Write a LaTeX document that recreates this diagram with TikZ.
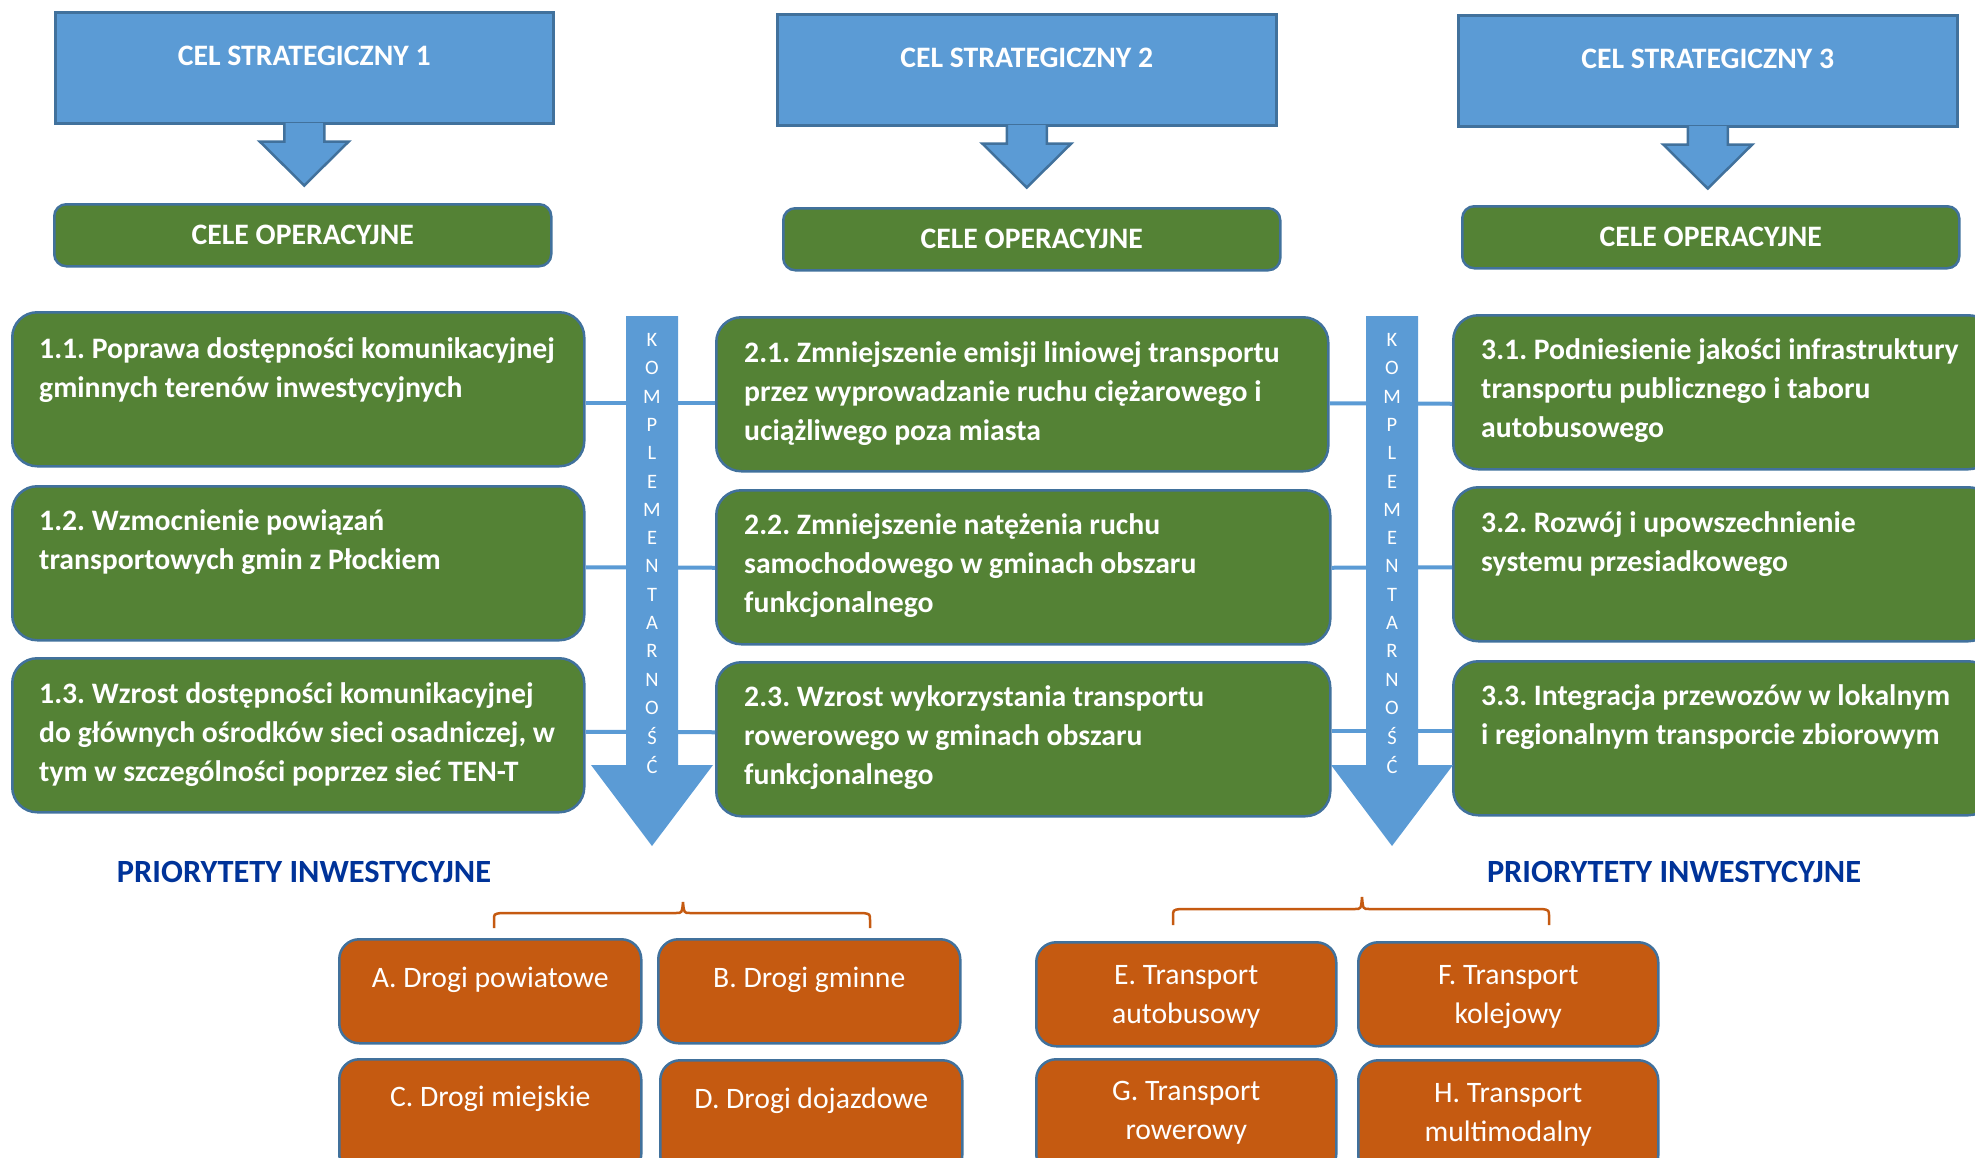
\documentclass[tikz,border=0pt]{standalone}
\usepackage{fontspec}
\setmainfont{Carlito}
\usetikzlibrary{calc}
\frenchspacing

\definecolor{boxblue}{HTML}{5B9BD5}
\definecolor{edgeblue}{HTML}{41719C}
\definecolor{opgreen}{HTML}{548235}
\definecolor{prioorange}{HTML}{C55A11}
\definecolor{prioblue}{RGB}{0,51,153}

\tikzset{
  stratbox/.style={draw=edgeblue, fill=boxblue, line width=2.5pt, minimum width=498pt,
    minimum height=111pt, anchor=north west, inner sep=0pt},
  headtext/.style={text=white, font=\fontsize{29.7}{36}\selectfont\bfseries, anchor=base, inner sep=0pt},
  downarrow/.style={fill=boxblue, draw=edgeblue, line width=2.5pt, line join=miter},
  opbox/.style={draw=edgeblue, fill=opgreen, line width=2.5pt, rounded corners=12pt,
    minimum width=497pt, minimum height=62pt, anchor=north west, text=white,
    font=\fontsize{29.7}{36}\selectfont\bfseries},
  goalbox/.style={draw=edgeblue, fill=opgreen, line width=2.5pt, rounded corners=25pt,
    minimum height=154pt, anchor=north west, inner sep=0pt},
  % base anchor of a multi-line node sits on its last line
  goaltext/.style={text=white, font=\fontsize{29.7}{39}\selectfont\bfseries, align=left,
    anchor=base west, inner sep=0pt},
  link/.style={draw=boxblue, line width=4pt},
  kletter/.style={text=white, font=\fontsize{20.5}{22}\selectfont, inner sep=0pt},
  priohead/.style={text=prioblue, font=\fontsize{32.4}{38}\selectfont\bfseries, inner sep=0pt},
  brace/.style={draw=prioorange, line width=2.5pt},
  prbox/.style={draw=edgeblue, fill=prioorange, line width=2.5pt, rounded corners=20pt,
    minimum height=104pt, anchor=north west, inner sep=0pt},
  prtext/.style={text=white, font=\fontsize{29.7}{39}\selectfont, align=center, anchor=base,
    inner sep=0pt},
}

\begin{document}
\begin{tikzpicture}[x=1pt, y=-1pt]
\useasboundingbox (0,0) rectangle (1975,1157);

% strategic goals
\node[stratbox] (s1) at (54,11) {};
\node[stratbox, minimum width=499pt] (s2) at (776,13) {};
\node[stratbox, minimum width=499pt] (s3) at (1457,14) {};
\node[headtext] (h1) at ($(s1.north)+(0,54)$) {CEL STRATEGICZNY 1};
\node[headtext] (h2) at ($(s2.north)+(0,54)$) {CEL STRATEGICZNY 2};
\node[headtext] (h3) at ($(s3.north)+(0,54)$) {CEL STRATEGICZNY 3};

% block arrows from each strategic goal
\foreach \s in {s1,s2,s3} {
  \filldraw[downarrow] ($(\s.south)+(-20,-1.5)$) -- ($(\s.south)+(-20,17)$)
    -- ($(\s.south)+(-44.5,17)$) -- ($(\s.south)+(0,61)$) -- ($(\s.south)+(44.5,17)$)
    -- ($(\s.south)+(20,17)$) -- ($(\s.south)+(20,-1.5)$);
}

% operational goal headers
\node[opbox] (c1) at (53,203) {CELE OPERACYJNE};
\node[opbox] (c2) at (782,207) {CELE OPERACYJNE};
\node[opbox] (c3) at (1461,205) {CELE OPERACYJNE};

% operational goals
\node[goalbox, minimum width=572pt] (g11) at (11,311) {};
\node[goalbox, minimum width=572pt] (g12) at (11,485) {};
\node[goalbox, minimum width=572pt] (g13) at (11,657) {};
\node[goalbox, minimum width=612pt] (g21) at (715,316) {};
\node[goalbox, minimum width=614pt] (g22) at (715,489) {};
\node[goalbox, minimum width=614pt] (g23) at (715,661) {};
\node[goalbox, minimum width=540pt] (g31) at (1452,314) {};
\node[goalbox, minimum width=540pt] (g32) at (1452,486) {};
\node[goalbox, minimum width=540pt] (g33) at (1452,660) {};

% links across the complementarity arrows
\draw[link] ([yshift=-14pt]g11.east) -- ([yshift=-9pt]g21.west);
\draw[link] ([yshift=-4pt]g12.east) -- ([yshift=-0.5pt]g22.west);
\draw[link] ([yshift=3.5pt]g13.east) -- ([yshift=7pt]g23.west);
\draw[link] ([yshift=-9pt]g21.east) -- ([yshift=-11.5pt]g31.west);
\draw[link] ([yshift=-0.5pt]g22.east) -- ([yshift=-3pt]g32.west);
\draw[link] ([yshift=8pt]g23.east) -- ([yshift=7pt]g33.west);

% complementarity arrows
\foreach \cx/\nm in {652/ka,1392/kb} {
  \fill[boxblue] (\cx-26,316) -- (\cx+26,316) -- (\cx+26,765) -- (\cx+61,765)
    -- (\cx,846) -- (\cx-61,765) -- (\cx-26,765) -- cycle;
  \foreach \l [count=\i] in {K,O,M,P,L,E,M,E,N,T,A,R,N,O,Ś,Ć}
    \node[kletter] (\nm\i) at (\cx,{340+(\i-1)*28.3}) {\l};
}

\node[goaltext] (t11) at ($(g11.north west)+(28,86)$)
  {1.1. Poprawa dostępności komunikacyjnej\\gminnych terenów inwestycyjnych};
\node[goaltext] (t12) at ($(g12.north west)+(28,84)$)
  {1.2. Wzmocnienie powiązań\\transportowych gmin z Płockiem};
\node[goaltext] (t13) at ($(g13.north west)+(28,124)$)
  {1.3. Wzrost dostępności komunikacyjnej\\do głównych ośrodków sieci osadniczej, w\\tym w szczególności poprzez sieć TEN-T};
\node[goaltext] (t21) at ($(g21.north west)+(29,124)$)
  {2.1. Zmniejszenie emisji liniowej transportu\\przez wyprowadzanie ruchu ciężarowego i\\uciążliwego poza miasta};
\node[goaltext] (t22) at ($(g22.north west)+(29,123)$)
  {2.2. Zmniejszenie natężenia ruchu\\samochodowego w gminach obszaru\\funkcjonalnego};
\node[goaltext] (t23) at ($(g23.north west)+(29,123)$)
  {2.3. Wzrost wykorzystania transportu\\rowerowego w gminach obszaru\\funkcjonalnego};
\node[goaltext] (t31) at ($(g31.north west)+(29,123)$)
  {3.1. Podniesienie jakości infrastruktury\\transportu publicznego i taboru\\autobusowego};
\node[goaltext] (t32) at ($(g32.north west)+(29,85)$)
  {3.2. Rozwój i upowszechnienie\\systemu przesiadkowego};
\node[goaltext] (t33) at ($(g33.north west)+(29,84)$)
  {3.3. Integracja przewozów w lokalnym\\i regionalnym transporcie zbiorowym};

% investment priorities
\node[priohead] (p1) at (304,872) {PRIORYTETY INWESTYCYJNE};
\node[priohead] (p2) at (1674,872) {PRIORYTETY INWESTYCYJNE};

\draw[brace] (494,928) -- (494,920) .. controls (494,914) .. (501,913) -- (676,913)
  .. controls (682,913) .. (683,902) .. controls (684,913) .. (690,913) -- (863,913)
  .. controls (870,914) .. (870,920) -- (870,928);
\draw[brace] (1173,925) -- (1173,917) .. controls (1173,910) .. (1180,909) -- (1355,909)
  .. controls (1361,909) .. (1362,897) .. controls (1363,909) .. (1369,909) -- (1542,909)
  .. controls (1549,910) .. (1549,917) -- (1549,925);

\node[prbox, minimum width=302pt] (pa) at (338,938) {};
\node[prbox, minimum width=302pt] (pb) at (657,938) {};
\node[prbox, minimum width=302pt, minimum height=115pt] (pc) at (338,1058) {};
\node[prbox, minimum width=302pt, minimum height=115pt] (pd) at (659,1059) {};
\node[prbox, minimum width=300pt] (pe) at (1035,941) {};
\node[prbox, minimum width=300pt] (pf) at (1357,941) {};
\node[prbox, minimum width=300pt, minimum height=115pt] (pg) at (1035,1058) {};
\node[prbox, minimum width=300pt, minimum height=115pt] (ph) at (1357,1059) {};

\node[prtext] (ta) at ($(pa.north)+(0,49)$) {A. Drogi powiatowe};
\node[prtext] (tb) at ($(pb.north)+(0,49)$) {B. Drogi gminne};
\node[prtext] (tc) at ($(pc.north)+(0,48)$) {C. Drogi miejskie};
\node[prtext] (td) at ($(pd.north)+(0,49)$) {D. Drogi dojazdowe};
\node[prtext] (te) at ($(pe.north)+(0,82)$) {E. Transport\\autobusowy};
\node[prtext] (tf) at ($(pf.north)+(0,82)$) {F. Transport\\kolejowy};
\node[prtext] (tg) at ($(pg.north)+(0,81)$) {G. Transport\\rowerowy};
\node[prtext] (th) at ($(ph.north)+(0,82)$) {H. Transport\\multimodalny};
\end{tikzpicture}
\end{document}
